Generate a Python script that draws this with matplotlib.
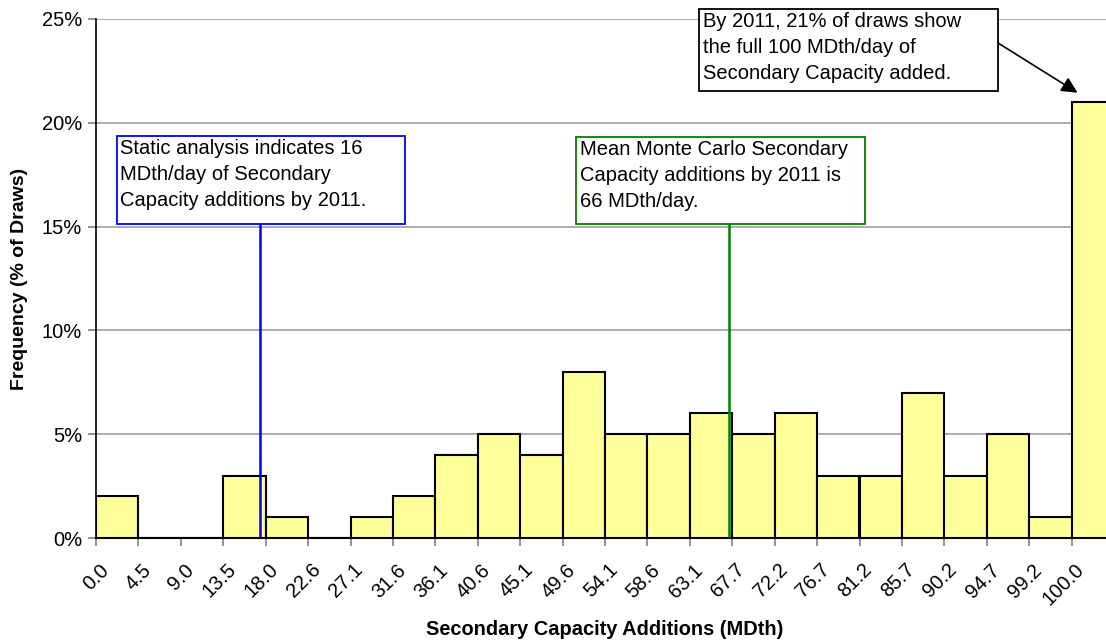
import matplotlib.pyplot as plt
from matplotlib.patches import Rectangle
import numpy as np

plt.rcParams['font.family'] = ['Liberation Sans', 'DejaVu Sans']

bin_labels = ['0.0', '4.5', '9.0', '13.5', '18.0', '22.6', '27.1', '31.6', '36.1', '40.6',
              '45.1', '49.6', '54.1', '58.6', '63.1', '67.7', '72.2', '76.7', '81.2', '85.7',
              '90.2', '94.7', '99.2', '100.0']
freq = [2, 0, 0, 3, 1, 0, 1, 2, 4, 5, 4, 8, 5, 5, 6, 5, 6, 3, 3, 7, 3, 5, 1, 21]

static_pos = 3.87   # bin position of static estimate (16 MDth/day)
mean_pos = 14.93    # bin position of Monte Carlo mean (66 MDth/day)

fig = plt.figure(figsize=(11.06, 6.4), dpi=100)
ax = fig.add_axes([96 / 1106, 102 / 640, 1018 / 1106, 519 / 640])

x = np.arange(len(freq))
ax.bar(x, freq, width=1.0, align='edge', color='#FFFF99', edgecolor='black', linewidth=1.5, zorder=3)

ax.set_xlim(0, len(freq))
ax.set_ylim(0, 25)
ax.set_yticks(np.arange(0, 26, 5))
ax.set_yticklabels([f'{v}%' for v in range(0, 26, 5)], fontsize=14.5)
ax.yaxis.grid(True, color='#A0A0A0', linewidth=1.2, zorder=0)

# boundary ticks (major, unlabeled) and labels slightly right of them (minor)
ax.set_xticks(np.arange(len(freq) + 1))
ax.set_xticklabels([])
ax.set_xticks(x + 0.07, minor=True)
ax.set_xticklabels(bin_labels, minor=True, fontsize=14.5, rotation=45, ha='right', va='top',
                   rotation_mode='anchor')

ax.tick_params(axis='x', which='major', direction='out', length=6, width=1.2, color='#808080')
ax.tick_params(axis='x', which='minor', length=0, pad=16)
ax.tick_params(axis='y', direction='out', length=6, width=1.2, color='#808080', pad=4)
for s in ['top', 'right']:
    ax.spines[s].set_visible(False)
ax.spines['left'].set_linewidth(1.2)
ax.spines['bottom'].set_linewidth(1.5)

ax.set_xlabel('Secondary Capacity Additions (MDth)', fontsize=14.4, fontweight='bold')
ax.xaxis.set_label_coords(0.5, -0.158)
ax.set_ylabel('Frequency (% of Draws)', fontsize=14, fontweight='bold', labelpad=10)

# reference lines
ax.plot([static_pos, static_pos], [0, 15.13], color='#0000FF', linewidth=1.8, zorder=4)
ax.plot([mean_pos, mean_pos], [0, 15.13], color='#008000', linewidth=1.8, zorder=4)

# annotation boxes
boxes = [
    (0.495, 15.13, 6.79, 4.23, '#0000FF',
     'Static analysis indicates 16\nMDth/day of Secondary\nCapacity additions by 2011.'),
    (11.32, 15.13, 6.82, 4.19, '#008000',
     'Mean Monte Carlo Secondary\nCapacity additions by 2011 is\n66 MDth/day.'),
    (14.22, 21.53, 7.05, 3.95, 'black',
     'By 2011, 21% of draws show\nthe full 100 MDth/day of\nSecondary Capacity added.'),
]
for bx, by, bw, bh, col, txt in boxes:
    ax.add_patch(Rectangle((bx, by), bw, bh, facecolor='white', edgecolor=col, linewidth=1.3,
                           zorder=5, clip_on=False))
    ax.text(bx + 0.08, by + bh - 0.15, txt, fontsize=14.5, va='top', ha='left',
            linespacing=1.45, zorder=6, clip_on=False)

ax.annotate('', xy=(23.14, 21.45), xytext=(21.27, 23.84),
            arrowprops=dict(arrowstyle='-|>', color='black', linewidth=1.2, mutation_scale=24,
                            shrinkA=0, shrinkB=0),
            zorder=5, annotation_clip=False)

fig.savefig('out.png', dpi=100)
